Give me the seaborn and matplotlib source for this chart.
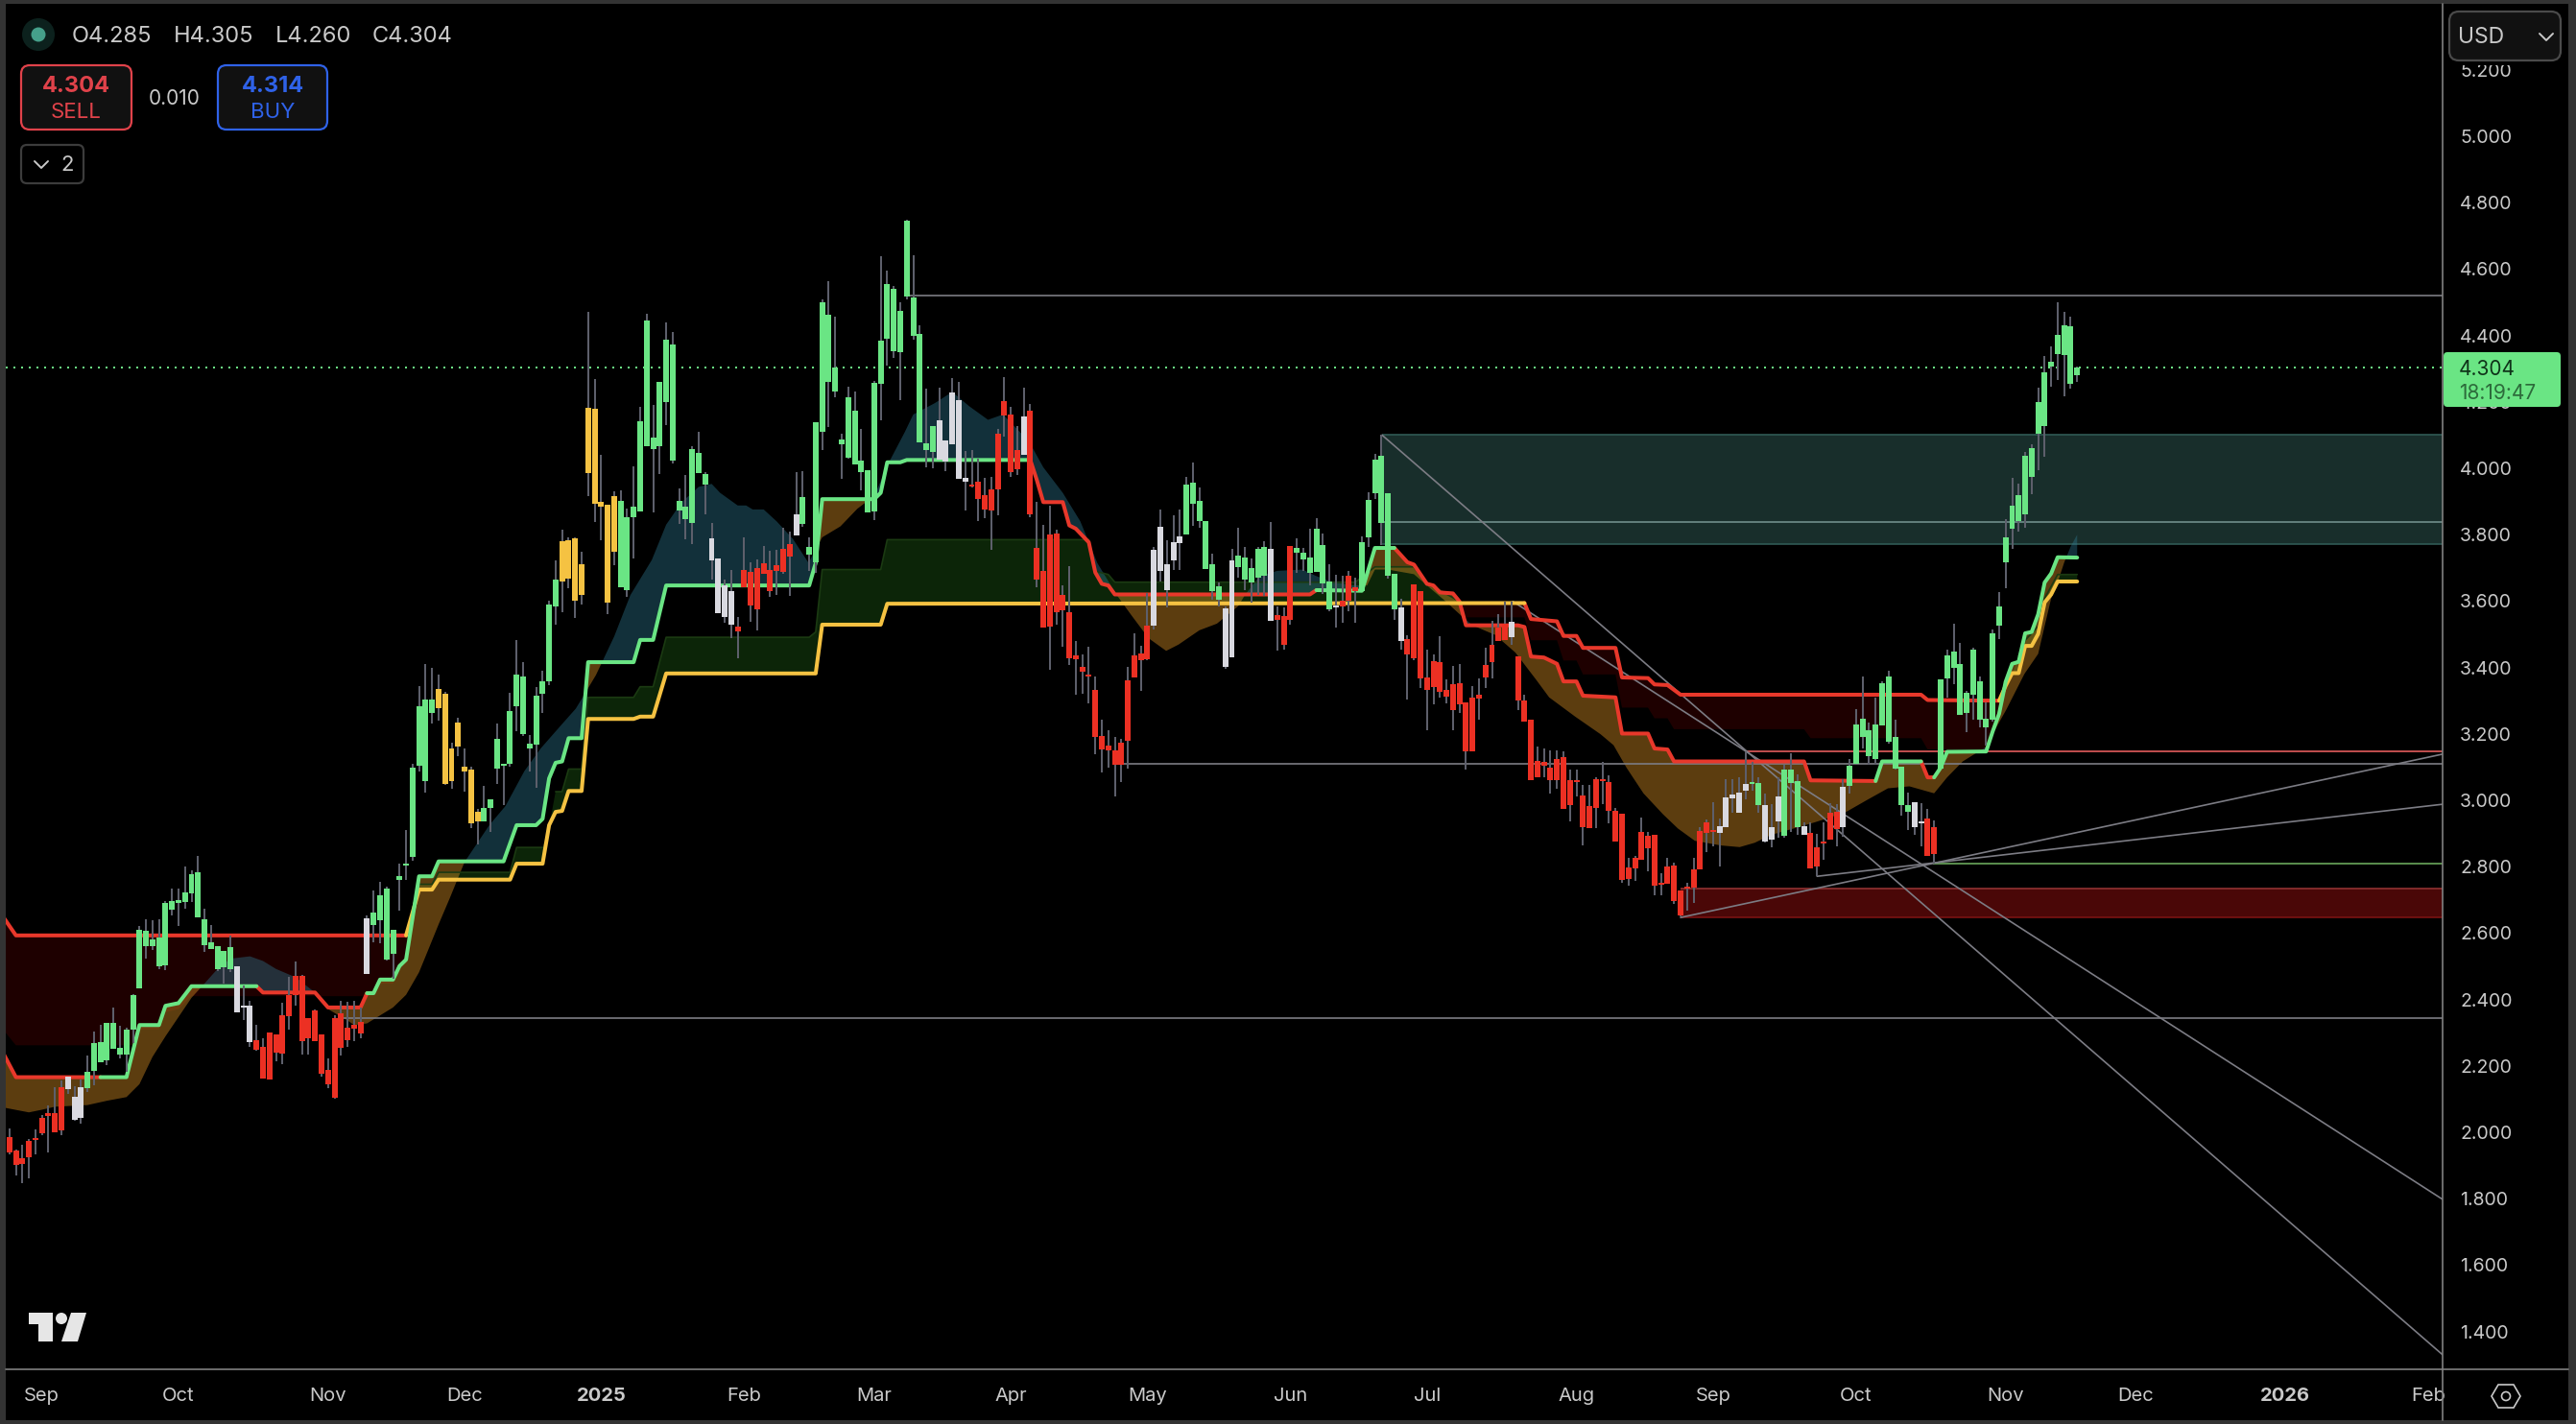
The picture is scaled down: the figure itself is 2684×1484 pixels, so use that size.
import numpy as np
import seaborn as sns
import matplotlib
matplotlib.use('Agg')
import matplotlib.pyplot as plt
from matplotlib.lines import Line2D
from matplotlib.patches import Circle, FancyBboxPatch, Polygon, Rectangle
from matplotlib.transforms import Affine2D

# candles, one per trading day
candle_kinds = ('R' * 9 + 'W' * 3 + 'G' * 23 + 'W' * 3 + 'R' * 17 + 'W' + 'G' * 10 + 'Y' * 7 + 'G' * 12 + 'Y' * 9
                + 'G' * 14 + 'W' * 4 + 'R' * 9 + 'W' + 'G' * 21 + 'W' * 5 + 'R' * 8 + 'W' + 'R' * 19 + 'W' * 5
                + 'G' * 6 + 'W' * 2 + 'G' * 5 + 'W' + 'R' * 3 + 'G' * 6 + 'W' + 'R' * 3 + 'G' * 6 + 'W' + 'R' * 16
                + 'W' + 'R' * 31 + 'W' * 5 + 'G' * 2 + 'W' * 3 + 'G' * 3 + 'W' + 'R' * 5 + 'W' + 'G' * 10 + 'W' * 2
                + 'R' * 2 + 'G' * 22)

body_top = [
    1.986, 1.945, 1.921, 1.974, 1.983, 2.044, 2.058, 2.058, 2.135, 2.168,
    2.107, 2.136, 2.182, 2.269, 2.272, 2.330, 2.330, 2.255, 2.310, 2.414,
    2.610, 2.607, 2.581, 2.587, 2.691, 2.697, 2.700, 2.723, 2.778, 2.783,
    2.642, 2.572, 2.561, 2.546, 2.558, 2.500, 2.382, 2.382, 2.278, 2.257,
    2.301, 2.295, 2.353, 2.414, 2.471, 2.471, 2.344, 2.367, 2.295, 2.188,
    2.344, 2.359, 2.315, 2.324, 2.333, 2.645, 2.662, 2.714, 2.734, 2.610,
    2.772, 2.810, 3.098, 3.283, 3.303, 3.303, 3.335, 3.321, 3.156, 3.234,
    3.101, 3.092, 2.965, 2.977, 3.003, 3.185, 3.110, 3.269, 3.379, 3.373,
    3.170, 3.315, 3.358, 3.589, 3.665, 3.780, 3.783, 3.789, 3.711, 4.182,
    4.179, 3.899, 3.890, 3.916, 3.901, 3.852, 3.884, 4.141, 4.445, 4.092,
    4.260, 4.387, 4.372, 3.901, 3.884, 4.057, 4.046, 3.982, 3.789, 3.728,
    3.647, 3.630, 3.522, 3.693, 3.687, 3.699, 3.714, 3.693, 3.708, 3.757,
    3.771, 3.861, 3.913, 3.763, 4.138, 4.500, 4.462, 4.303, 4.086, 4.214,
    4.173, 4.023, 3.994, 4.257, 4.384, 4.555, 4.540, 4.474, 4.746, 4.514,
    4.405, 4.075, 4.127, 4.144, 4.083, 4.228, 4.205, 3.971, 3.950, 3.959,
    3.919, 3.936, 4.104, 4.202, 4.161, 4.055, 4.156, 4.173, 3.760, 3.691,
    3.800, 3.803, 3.618, 3.566, 3.436, 3.402, 3.378, 3.332, 3.194, 3.165,
    3.150, 3.173, 3.361, 3.436, 3.442, 3.526, 3.754, 3.824, 3.711, 3.777,
    3.795, 3.951, 3.957, 3.902, 3.841, 3.711, 3.644, 3.578, 3.722, 3.737,
    3.731, 3.699, 3.757, 3.763, 3.757, 3.558, 3.555, 3.766, 3.760, 3.746,
    3.731, 3.818, 3.769, 3.659, 3.587, 3.601, 3.676, 3.642, 3.777, 3.904,
    4.026, 4.037, 3.925, 3.682, 3.581, 3.485, 3.650, 3.630, 3.370, 3.419,
    3.416, 3.332, 3.350, 3.352, 3.295, 3.309, 3.318, 3.407, 3.468, 3.520,
    3.532, 3.537, 3.433, 3.300, 3.243, 3.118, 3.115, 3.098, 3.124, 3.130,
    3.061, 3.061, 3.014, 2.983, 3.063, 3.063, 3.055, 2.968, 2.960, 2.798,
    2.826, 2.905, 2.893, 2.896, 2.751, 2.800, 2.803, 2.728, 2.740, 2.792,
    2.907, 2.933, 2.910, 2.922, 3.009, 3.017, 3.023, 3.049, 3.055, 3.052,
    2.985, 2.919, 3.011, 3.092, 3.092, 3.058, 2.922, 2.902, 2.858, 2.876,
    2.962, 2.965, 3.040, 3.104, 3.228, 3.246, 3.211, 3.228, 3.352, 3.373,
    3.191, 3.101, 2.985, 2.994, 2.936, 2.945, 2.919, 3.363, 3.436, 3.448,
    3.410, 3.324, 3.454, 3.358, 3.246, 3.503, 3.584, 3.792, 3.886, 3.920,
    4.039, 4.060, 4.198, 4.289, 4.320, 4.402, 4.430, 4.428, 4.303,
]
body_bottom = [
    1.940, 1.902, 1.906, 1.925, 1.978, 1.997, 2.050, 2.000, 2.006, 2.130,
    2.039, 2.044, 2.133, 2.185, 2.212, 2.217, 2.251, 2.234, 2.234, 2.310,
    2.434, 2.561, 2.561, 2.500, 2.503, 2.671, 2.691, 2.694, 2.720, 2.646,
    2.564, 2.552, 2.492, 2.497, 2.492, 2.362, 2.376, 2.272, 2.249, 2.162,
    2.159, 2.240, 2.237, 2.350, 2.414, 2.275, 2.283, 2.275, 2.177, 2.145,
    2.104, 2.255, 2.278, 2.312, 2.298, 2.477, 2.625, 2.639, 2.521, 2.538,
    2.760, 2.804, 2.830, 3.105, 3.059, 3.263, 3.277, 3.049, 3.058, 3.162,
    3.087, 2.931, 2.936, 2.936, 2.977, 3.095, 3.104, 3.110, 3.283, 3.199,
    3.156, 3.167, 3.321, 3.358, 3.584, 3.659, 3.668, 3.601, 3.618, 3.985,
    3.893, 3.884, 3.595, 3.748, 3.641, 3.633, 3.852, 3.870, 4.066, 4.057,
    4.066, 4.199, 4.023, 3.872, 3.846, 3.835, 3.985, 3.950, 3.722, 3.563,
    3.552, 3.529, 3.508, 3.641, 3.586, 3.575, 3.682, 3.630, 3.690, 3.687,
    3.734, 3.797, 3.832, 3.740, 3.716, 4.110, 4.260, 4.231, 4.072, 4.031,
    4.011, 3.988, 3.867, 3.871, 4.254, 4.390, 4.353, 4.350, 4.517, 4.399,
    4.078, 4.055, 4.049, 4.026, 4.020, 4.072, 3.968, 3.959, 3.945, 3.907,
    3.875, 3.873, 3.936, 4.159, 3.988, 3.997, 4.040, 3.861, 3.665, 3.520,
    3.523, 3.566, 3.572, 3.428, 3.425, 3.387, 3.373, 3.191, 3.153, 3.150,
    3.107, 3.107, 3.179, 3.370, 3.422, 3.425, 3.526, 3.691, 3.633, 3.722,
    3.774, 3.800, 3.893, 3.841, 3.696, 3.630, 3.604, 3.402, 3.431, 3.702,
    3.665, 3.656, 3.670, 3.676, 3.540, 3.543, 3.468, 3.543, 3.746, 3.725,
    3.685, 3.688, 3.653, 3.575, 3.581, 3.584, 3.601, 3.630, 3.630, 3.792,
    3.925, 3.835, 3.676, 3.575, 3.480, 3.439, 3.428, 3.367, 3.332, 3.341,
    3.326, 3.312, 3.272, 3.289, 3.147, 3.147, 3.306, 3.370, 3.416, 3.480,
    3.483, 3.491, 3.300, 3.237, 3.061, 3.069, 3.104, 3.061, 3.061, 2.974,
    2.985, 3.055, 2.919, 2.916, 2.977, 3.058, 2.968, 2.876, 2.760, 2.763,
    2.795, 2.821, 2.855, 2.743, 2.746, 2.748, 2.696, 2.653, 2.734, 2.737,
    2.792, 2.902, 2.904, 2.902, 2.919, 3.006, 2.962, 3.029, 3.049, 2.985,
    2.876, 2.881, 2.936, 2.893, 3.052, 2.919, 2.896, 2.795, 2.800, 2.870,
    2.881, 2.913, 2.919, 3.043, 3.110, 3.191, 3.133, 3.124, 3.225, 3.176,
    3.095, 2.985, 2.965, 2.919, 2.931, 2.832, 2.838, 3.096, 3.367, 3.399,
    3.257, 3.263, 3.318, 3.243, 3.220, 3.243, 3.526, 3.716, 3.818, 3.842,
    3.860, 3.974, 4.103, 4.128, 4.306, 4.344, 4.342, 4.255, 4.279,
]
wick_top = [
    2.012, 1.947, 1.962, 1.981, 2.010, 2.053, 2.082, 2.135, 2.156, 2.168,
    2.140, 2.159, 2.231, 2.304, 2.323, 2.330, 2.376, 2.320, 2.316, 2.416,
    2.622, 2.641, 2.639, 2.641, 2.696, 2.734, 2.734, 2.800, 2.790, 2.832,
    2.673, 2.625, 2.561, 2.546, 2.592, 2.501, 2.443, 2.395, 2.323, 2.283,
    2.301, 2.295, 2.390, 2.469, 2.514, 2.474, 2.344, 2.371, 2.295, 2.222,
    2.352, 2.395, 2.392, 2.395, 2.376, 2.653, 2.728, 2.755, 2.740, 2.610,
    2.810, 2.911, 3.110, 3.344, 3.410, 3.399, 3.378, 3.327, 3.173, 3.248,
    3.156, 3.101, 2.973, 3.043, 3.003, 3.231, 3.110, 3.324, 3.483, 3.416,
    3.196, 3.341, 3.390, 3.601, 3.722, 3.815, 3.792, 3.792, 3.748, 4.471,
    4.270, 4.040, 3.890, 3.930, 3.933, 3.878, 4.005, 4.185, 4.464, 4.190,
    4.260, 4.439, 4.410, 3.939, 3.979, 4.066, 4.110, 3.989, 3.835, 3.728,
    3.666, 3.693, 3.551, 3.792, 3.716, 3.724, 3.767, 3.751, 3.753, 3.822,
    3.808, 3.989, 3.991, 3.792, 4.138, 4.510, 4.564, 4.457, 4.105, 4.247,
    4.230, 4.119, 3.994, 4.262, 4.639, 4.595, 4.549, 4.500, 4.749, 4.642,
    4.431, 4.240, 4.127, 4.242, 4.083, 4.273, 4.259, 4.052, 4.056, 4.028,
    3.970, 3.975, 4.119, 4.276, 4.185, 4.127, 4.244, 4.193, 3.898, 3.830,
    3.888, 3.816, 3.647, 3.705, 3.479, 3.440, 3.462, 3.373, 3.243, 3.211,
    3.190, 3.185, 3.402, 3.503, 3.464, 3.623, 3.763, 3.876, 3.782, 3.859,
    3.876, 3.975, 4.016, 3.941, 3.841, 3.744, 3.657, 3.585, 3.758, 3.821,
    3.763, 3.729, 3.763, 3.779, 3.838, 3.585, 3.580, 3.766, 3.789, 3.760,
    3.818, 3.850, 3.803, 3.710, 3.679, 3.676, 3.691, 3.670, 3.794, 3.927,
    4.042, 4.100, 3.925, 3.682, 3.606, 3.498, 3.650, 3.630, 3.455, 3.438,
    3.493, 3.363, 3.406, 3.409, 3.295, 3.344, 3.368, 3.459, 3.541, 3.561,
    3.599, 3.599, 3.433, 3.318, 3.243, 3.161, 3.156, 3.151, 3.151, 3.146,
    3.093, 3.093, 3.045, 3.045, 3.069, 3.117, 3.076, 2.978, 2.960, 2.828,
    2.831, 2.947, 2.906, 2.896, 2.780, 2.826, 2.811, 2.728, 2.751, 2.828,
    2.920, 2.942, 2.994, 2.944, 3.064, 3.064, 3.069, 3.146, 3.117, 3.069,
    3.021, 2.987, 3.069, 3.108, 3.142, 3.079, 2.934, 2.934, 2.900, 2.934,
    2.990, 2.987, 3.064, 3.124, 3.274, 3.372, 3.233, 3.308, 3.358, 3.389,
    3.243, 3.101, 3.023, 2.994, 2.990, 2.973, 2.939, 3.363, 3.453, 3.532,
    3.474, 3.330, 3.459, 3.373, 3.296, 3.514, 3.628, 3.846, 3.970, 3.953,
    4.049, 4.073, 4.243, 4.339, 4.366, 4.499, 4.471, 4.457, 4.305,
]
wick_bottom = [
    1.933, 1.870, 1.848, 1.860, 1.933, 1.991, 1.938, 2.000, 1.991, 2.116,
    2.036, 2.027, 2.121, 2.143, 2.212, 2.201, 2.251, 2.222, 2.183, 2.270,
    2.434, 2.524, 2.549, 2.490, 2.487, 2.653, 2.620, 2.672, 2.694, 2.646,
    2.542, 2.552, 2.485, 2.448, 2.484, 2.362, 2.339, 2.258, 2.246, 2.162,
    2.159, 2.214, 2.206, 2.310, 2.381, 2.233, 2.233, 2.275, 2.168, 2.133,
    2.101, 2.231, 2.257, 2.275, 2.282, 2.477, 2.572, 2.569, 2.516, 2.463,
    2.668, 2.761, 2.817, 3.087, 3.023, 3.231, 3.240, 3.046, 3.035, 3.133,
    3.026, 2.915, 2.867, 2.936, 2.904, 3.049, 2.985, 3.101, 3.208, 3.194,
    3.087, 3.037, 3.263, 3.347, 3.529, 3.566, 3.639, 3.549, 3.589, 3.916,
    3.838, 3.782, 3.560, 3.707, 3.641, 3.613, 3.728, 3.870, 4.066, 3.867,
    3.982, 4.129, 4.015, 3.832, 3.786, 3.772, 3.985, 3.861, 3.664, 3.563,
    3.534, 3.488, 3.427, 3.641, 3.537, 3.511, 3.682, 3.613, 3.618, 3.681,
    3.616, 3.797, 3.825, 3.690, 3.684, 4.056, 4.124, 4.215, 3.968, 4.030,
    4.011, 3.934, 3.867, 3.845, 4.145, 4.309, 4.332, 4.206, 4.509, 4.387,
    4.078, 4.002, 4.001, 4.026, 3.992, 4.072, 3.968, 3.873, 3.941, 3.840,
    3.849, 3.753, 3.859, 4.095, 3.975, 3.979, 4.040, 3.854, 3.642, 3.520,
    3.394, 3.530, 3.462, 3.408, 3.318, 3.320, 3.291, 3.139, 3.084, 3.098,
    3.011, 3.055, 3.096, 3.370, 3.329, 3.421, 3.514, 3.659, 3.582, 3.695,
    3.695, 3.800, 3.827, 3.821, 3.696, 3.604, 3.585, 3.397, 3.431, 3.671,
    3.633, 3.594, 3.618, 3.616, 3.540, 3.452, 3.455, 3.530, 3.686, 3.691,
    3.647, 3.688, 3.622, 3.570, 3.520, 3.536, 3.570, 3.535, 3.630, 3.763,
    3.907, 3.768, 3.668, 3.543, 3.455, 3.304, 3.421, 3.337, 3.212, 3.289,
    3.310, 3.291, 3.212, 3.262, 3.093, 3.147, 3.243, 3.339, 3.368, 3.480,
    3.483, 3.469, 3.272, 3.237, 3.061, 3.069, 3.069, 3.021, 3.036, 2.974,
    2.936, 3.013, 2.864, 2.916, 2.915, 2.987, 2.930, 2.876, 2.751, 2.742,
    2.756, 2.821, 2.785, 2.715, 2.715, 2.748, 2.689, 2.650, 2.669, 2.692,
    2.792, 2.843, 2.862, 2.801, 2.919, 2.963, 2.962, 3.002, 3.030, 2.963,
    2.872, 2.859, 2.886, 2.886, 2.906, 2.896, 2.896, 2.795, 2.771, 2.821,
    2.881, 2.862, 2.891, 3.021, 3.110, 3.156, 3.108, 3.108, 3.225, 3.170,
    3.093, 2.954, 2.910, 2.896, 2.862, 2.832, 2.809, 3.096, 3.309, 3.349,
    3.257, 3.204, 3.243, 3.219, 3.166, 3.237, 3.485, 3.638, 3.758, 3.810,
    3.822, 3.922, 3.994, 4.034, 4.246, 4.265, 4.217, 4.241, 4.259,
]

# fast line (turns green or red)
fast_bars = [-1, 1, 14, 18, 20, 23, 24, 26, 28, 38, 39, 47, 49, 54, 55, 56, 57, 59, 60, 61, 63, 65, 66, 76, 78, 81,
             82, 83, 84, 85, 86, 88, 89, 96, 97, 99, 101, 123, 124, 125, 133, 134, 135, 137, 138, 157, 158, 159, 162,
             163, 164, 166, 167, 168, 169, 170, 200, 201, 208, 209, 210, 213, 215, 216, 218, 219, 220, 222, 223, 224,
             232, 233, 234, 236, 238, 239, 241, 242, 247, 248, 252, 253, 255, 256, 276, 277, 287, 288, 294, 295, 296,
             297, 298, 304, 305, 306, 307, 308, 309, 310, 311, 312, 313, 314, 315, 318]
fast_vals = [2.240, 2.166, 2.166, 2.166, 2.323, 2.323, 2.381, 2.389, 2.440, 2.440, 2.421, 2.421, 2.376, 2.376, 2.419,
             2.419, 2.460, 2.460, 2.501, 2.520, 2.771, 2.771, 2.816, 2.816, 2.925, 2.925, 2.944, 3.066, 3.113, 3.117,
             3.187, 3.187, 3.416, 3.416, 3.483, 3.483, 3.647, 3.647, 3.715, 3.907, 3.907, 3.926, 4.018, 4.018, 4.025,
             4.025, 3.965, 3.898, 3.898, 3.828, 3.818, 3.777, 3.686, 3.652, 3.647, 3.620, 3.620, 3.633, 3.631, 3.695,
             3.760, 3.760, 3.717, 3.710, 3.652, 3.647, 3.626, 3.623, 3.599, 3.527, 3.527, 3.522, 3.433, 3.430, 3.411,
             3.358, 3.358, 3.315, 3.310, 3.201, 3.201, 3.156, 3.153, 3.117, 3.117, 3.060, 3.058, 3.117, 3.117, 3.069,
             3.069, 3.098, 3.146, 3.147, 3.207, 3.261, 3.357, 3.411, 3.417, 3.503, 3.507, 3.560, 3.656, 3.683, 3.732,
             3.731]
fast_green_runs = [(14, 38), (55, 157), (201, 213), (287, 294), (296, 318)]
fast_red_runs = [(-1, 14), (38, 55), (157, 201), (213, 287), (294, 296)]

# slow line (yellow above, red below)
slow_bars = [-1, 1, 61, 63, 65, 66, 77, 78, 82, 83, 84, 85, 86, 88, 89, 96, 97, 99, 101, 124, 125, 134, 135, 233, 234,
             238, 239, 241, 242, 247, 248, 252, 253, 255, 257, 294, 295, 306, 307, 308, 309, 310, 311, 312, 313, 314,
             315, 318]
slow_vals = [2.650, 2.593, 2.593, 2.731, 2.731, 2.761, 2.761, 2.809, 2.809, 2.925, 2.965, 2.968, 3.028, 3.028, 3.245,
             3.245, 3.252, 3.252, 3.382, 3.382, 3.529, 3.529, 3.592, 3.594, 3.546, 3.539, 3.495, 3.495, 3.459, 3.459,
             3.370, 3.368, 3.349, 3.347, 3.318, 3.318, 3.302, 3.300, 3.345, 3.383, 3.383, 3.465, 3.465, 3.501, 3.596,
             3.620, 3.659, 3.659]
slow_yellow_runs = [(61, 233), (306, 318)]
slow_red_runs = [(-1, 61), (233, 306)]

# second edge of the dark red / dark green band
band_bars = [-1, 1, 19, 20, 23, 24, 26, 28, 55, 56, 57, 59, 60, 61, 63, 65, 66, 77, 78, 82, 83, 84, 85, 86, 88, 89, 96,
             97, 99, 101, 123, 124, 125, 134, 135, 166, 167, 169, 170, 207, 210, 216, 218, 219, 223, 224, 233, 234, 238,
             239, 241, 242, 247, 248, 252, 253, 255, 256, 276, 277, 294, 295, 304, 306, 307, 309, 310, 312, 313, 315,
             318]
band_vals = [2.310, 2.262, 2.262, 2.309, 2.309, 2.362, 2.371, 2.410, 2.410, 2.414, 2.448, 2.448, 2.492, 2.511, 2.747,
             2.747, 2.783, 2.783, 2.858, 2.858, 2.920, 3.026, 3.026, 3.094, 3.094, 3.310, 3.310, 3.342, 3.342, 3.491,
             3.491, 3.507, 3.695, 3.695, 3.785, 3.785, 3.690, 3.680, 3.657, 3.657, 3.703, 3.703, 3.647, 3.644, 3.599,
             3.551, 3.551, 3.482, 3.482, 3.421, 3.421, 3.379, 3.379, 3.279, 3.279, 3.247, 3.247, 3.214, 3.214, 3.187,
             3.187, 3.153, 3.153, 3.255, 3.321, 3.435, 3.482, 3.524, 3.608, 3.680, 3.680]

# slow moving average, brown under the fast line and teal above it
mean_bars = [-1, 3, 5, 7, 12, 15, 18, 20, 22, 24, 26, 28, 30, 32, 34, 37, 39, 41, 44, 47, 49, 52, 53, 55, 57, 59, 61,
             63, 64.4, 66, 67.7, 70, 73.8, 76.3, 79.2, 81.7, 84.7, 87.1, 88, 90.2, 93, 95.5, 98.8, 101, 103.4, 106, 108,
             109.3, 112, 113.3, 114.3, 116, 118, 120.5, 122.9, 125, 127.8, 130.4, 133, 135.4, 137.7, 139, 142.3, 145,
             147.6, 150.5, 152.8, 156.8, 159, 162, 164.7, 167.3, 170.3, 172.6, 175.2, 177.9, 179.8, 183, 185.7, 189,
             190, 192.3, 195, 198.9, 200.9, 203.5, 206.8, 208.8, 210, 212, 216, 218, 220.6, 223, 225, 228.5, 231.6,
             234.8, 236.8, 240.8, 244.7, 246.7, 248.7, 251.3, 254.3, 256.6, 259.2, 263.2, 266.1, 268.4, 271, 274.4,
             277.7, 282.3, 285.6, 288.9, 292.2, 296, 298, 300.4, 304, 304.7, 307.1, 309.9, 312, 313, 314, 315, 316,
             317, 318]
mean_vals = [2.075, 2.060, 2.068, 2.077, 2.082, 2.095, 2.106, 2.145, 2.227, 2.289, 2.347, 2.405, 2.448, 2.492, 2.523,
             2.530, 2.516, 2.492, 2.467, 2.421, 2.371, 2.337, 2.323, 2.328, 2.352, 2.376, 2.414, 2.482, 2.549, 2.626,
             2.704, 2.814, 2.925, 2.983, 3.088, 3.156, 3.223, 3.276, 3.305, 3.377, 3.493, 3.618, 3.724, 3.830, 3.898,
             3.944, 3.953, 3.926, 3.888, 3.888, 3.876, 3.876, 3.840, 3.787, 3.715, 3.792, 3.825, 3.878, 3.917, 4.023,
             4.109, 4.162, 4.196, 4.230, 4.187, 4.146, 4.162, 4.081, 4.003, 3.926, 3.840, 3.715, 3.618, 3.556, 3.488,
             3.450, 3.469, 3.512, 3.532, 3.585, 3.618, 3.676, 3.691, 3.695, 3.676, 3.657, 3.647, 3.647, 3.695, 3.695,
             3.681, 3.647, 3.604, 3.561, 3.527, 3.498, 3.445, 3.363, 3.310, 3.252, 3.199, 3.166, 3.098, 3.021, 2.958,
             2.915, 2.878, 2.864, 2.859, 2.872, 2.896, 2.915, 2.934, 2.963, 3.000, 3.036, 3.042, 3.021, 3.069, 3.117,
             3.161, 3.189, 3.273, 3.381, 3.441, 3.525, 3.608, 3.656, 3.716, 3.764, 3.800]

# drawn levels: start bar, price
grey_levels = [(138.3, 4.520), (170.5, 3.110), (51.3, 2.345)]
salmon_level = (267.2, 3.148)
green_level = (295.8, 2.809)
teal_zone = (211.1, 3.771, 4.100, 3.838)
red_zone = (257.0, 2.647, 2.735)
# trend rays: start bar, start price, end price at the right edge
trend_rays = [(211.1, 4.100, 1.330), (231.2, 3.599, 1.798), (257.0, 2.647, 3.139), (278.0, 2.771, 2.988)]

last_price = 4.304
price_ticks = [1.4, 1.6, 1.8, 2.0, 2.2, 2.4, 2.6, 2.8, 3.0, 3.2, 3.4, 3.6, 3.8, 4.0, 4.2, 4.4, 4.6, 4.8, 5.0, 5.2]
month_bars = [5, 26, 49, 70, 91, 113, 133, 154, 175, 197, 218, 241, 262, 284, 307, 327, 350, 372]
month_labels = ['Sep', 'Oct', 'Nov', 'Dec', '2025', 'Feb', 'Mar', 'Apr', 'May', 'Jun', 'Jul', 'Aug', 'Sep', 'Oct',
                'Nov', 'Dec', '2026', 'Feb']
legend_items = ['O4.285', 'H4.305', 'L4.260', 'C4.304']

GREEN = '#6ae584'
RED = '#ec3023'
WHITE = '#d9d9e0'
YELLOW = '#f5c242'
WICK = '#5d5f6b'
LINE_GREY = '#7c7c84'
TEXT = '#c9c9c9'
kind_colors = {'G': GREEN, 'R': RED, 'W': WHITE, 'Y': YELLOW}

W, H = 2684, 1484
sns.set_theme(style='dark', rc={'axes.facecolor': 'black', 'figure.facecolor': '#333333'})
plt.rcParams['font.family'] = ['Inter', 'DejaVu Sans']

fig = plt.figure(figsize=(W / 100, H / 100), dpi=100)
ui = Affine2D().scale(1, -1).translate(0, H)  # pixel coordinates, origin top left
fig.add_artist(Rectangle((6, 4), 2670, 1476, transform=ui, fc='black', ec='none', zorder=-1))

ax = fig.add_axes([6 / W, 1 - 1427 / H, (2545 - 6) / W, (1427 - 4) / H], zorder=1)
ax.set_xlim((6 - 9.8) / 6.775, (2545 - 9.8) / 6.775)
ax.set_ylim(5 - (1427 - 142) / 346, 5 - (4 - 142) / 346)
for s in ax.spines.values():
    s.set_visible(False)
right_edge = ax.get_xlim()[1]

# clouds
grid = np.arange(-1, 318.01, 0.1)
fast_grid = np.interp(grid, fast_bars, fast_vals)
slow_grid = np.interp(grid, slow_bars, slow_vals)
band_grid = np.interp(grid, band_bars, band_vals)
mean_grid = np.interp(grid, mean_bars, mean_vals)
ax.fill_between(grid, band_grid, slow_grid, where=band_grid < slow_grid, color='#a00000', alpha=0.19, lw=0, zorder=1)
ax.fill_between(grid, band_grid, slow_grid, where=band_grid >= slow_grid, color='#2f8a1e', alpha=0.27, lw=0, zorder=1)
ax.fill_between(grid, fast_grid, mean_grid, where=mean_grid < fast_grid, color='#e89a28', alpha=0.40, lw=0, zorder=1.2)
ax.fill_between(grid, fast_grid, mean_grid, where=mean_grid >= fast_grid, color='#2f7a93', alpha=0.40, lw=0, zorder=1.2)

# zones and drawn lines
left, low, high, mid = teal_zone
ax.fill_between([left, right_edge], low, high, color='#182e2b', lw=0, zorder=0.5)
ax.hlines([low, high], left, right_edge, color='#2f5a55', lw=1.2, zorder=0.6)
ax.hlines(mid, left, right_edge, color='#6f8d8b', lw=1.2, zorder=2)
left, low, high = red_zone
ax.fill_between([left, right_edge], low, high, color='#4a0707', lw=0, zorder=0.5)
ax.hlines(low, left, right_edge, color='#7a1212', lw=1.2, zorder=0.6)
ax.hlines(high, left, right_edge, color='#8f3232', lw=1.2, zorder=0.6)
for bar, price in grey_levels:
    ax.hlines(price, bar, right_edge, color=LINE_GREY, lw=1.2, zorder=2)
ax.hlines(salmon_level[1], salmon_level[0], right_edge, color='#e25c5c', lw=1.2, zorder=2)
ax.hlines(green_level[1], green_level[0], right_edge, color='#6aa85c', lw=1.2, zorder=2)
for bar, start, end in trend_rays:
    sns.lineplot(x=[bar, right_edge], y=[start, end], color=LINE_GREY, linewidth=1.2, ax=ax, estimator=None, zorder=2.5)
ax.axhline(last_price, color=GREEN, lw=1.44, ls=(0, (1, 3)), zorder=3)

# indicator lines, drawn per colour run
every_bar = np.arange(-1, 319)
fast_line = np.interp(every_bar, fast_bars, fast_vals)
slow_line = np.interp(every_bar, slow_bars, slow_vals)
band_line = np.interp(every_bar, band_bars, band_vals)
ax.plot(every_bar, np.where(band_line >= slow_line, band_line, np.nan), color='#1b3a12', lw=1.2, zorder=1.5)
for runs, line, color in [(fast_red_runs, fast_line, '#e8382b'), (slow_red_runs, slow_line, '#e8382b'),
                          (slow_yellow_runs, slow_line, YELLOW), (fast_green_runs, fast_line, GREEN)]:
    for a, b in runs:
        mask = (every_bar >= a) & (every_bar <= b)
        sns.lineplot(x=every_bar[mask], y=line[mask], color=color, linewidth=2.9, ax=ax, estimator=None, zorder=3.2)

# candles
bars = np.arange(len(body_top))
colors = [kind_colors[k] for k in candle_kinds]
ax.vlines(bars, wick_bottom, wick_top, color=WICK, lw=1.44, zorder=4)
ax.bar(bars, np.array(body_top) - np.array(body_bottom), bottom=body_bottom, width=0.885, color=colors, lw=0, zorder=5)

# axes
ax.yaxis.tick_right()
ax.set_yticks(price_ticks)
ax.set_yticklabels(['%.3f' % p for p in price_ticks], fontsize=14, color=TEXT)
ax.set_xticks(month_bars)
ax.set_xticklabels(month_labels, fontsize=14.5, color=TEXT)
ax.tick_params(axis='y', length=0, pad=13)
ax.tick_params(axis='x', length=0, pad=14)
for label in ax.get_xticklabels():
    if label.get_text() in ('2025', '2026'):
        label.set_fontweight('bold')
fig.add_artist(Line2D([2545, 2545], [4, 1480], transform=ui, color='#808080', lw=1.2, zorder=6))
fig.add_artist(Line2D([6, 2676], [1427, 1427], transform=ui, color='#808080', lw=1.2, zorder=6))

# chrome around the chart
fig.add_artist(Rectangle((2547, 1429), 129, 51, transform=ui, fc='black', ec='none', zorder=5))
fig.add_artist(Rectangle((2547, 4), 129, 64, transform=ui, fc='black', ec='none', zorder=5))
fig.add_artist(Circle((40, 36), 17, transform=ui, fc='#0c211d', ec='none', zorder=7))
fig.add_artist(Circle((40, 36), 7.5, transform=ui, fc='#45a08a', ec='none', zorder=7))
for x, item in zip([75, 181, 287, 388], legend_items):
    fig.text(x, 38, item, transform=ui, fontsize=17, color=TEXT, va='center', ha='left', zorder=7)


def box(x0, y0, x1, y1, edge, face='#111111', rad=9, lw=1.6):
    fig.add_artist(FancyBboxPatch((x0 + rad, y0 + rad), x1 - x0 - 2 * rad, y1 - y0 - 2 * rad,
                                  boxstyle='round,pad=%d,rounding_size=%d' % (rad, rad), transform=ui, fc=face,
                                  ec=edge, lw=lw, zorder=7))


def chevron(x, y, color=TEXT):
    fig.add_artist(Line2D([x - 7, x, x + 7], [y - 3, y + 4, y - 3], transform=ui, color=color, lw=1.4, zorder=8))


box(22, 68, 137, 135, '#e0424a')
fig.text(79, 90, '4.304', transform=ui, fontsize=17, fontweight='bold', color='#e0424a', ha='center', va='center', zorder=8)
fig.text(79, 117, 'SELL', transform=ui, fontsize=16, color='#e0424a', ha='center', va='center', zorder=8)
fig.text(182, 103, '0.010', transform=ui, fontsize=15, color=TEXT, ha='center', va='center', zorder=8)
box(227, 68, 341, 135, '#2f62e8')
fig.text(284, 90, '4.314', transform=ui, fontsize=17, fontweight='bold', color='#2f62e8', ha='center', va='center', zorder=8)
fig.text(284, 117, 'BUY', transform=ui, fontsize=16, color='#2f62e8', ha='center', va='center', zorder=8)
box(22, 151, 87, 191, '#3c3c3c', face='black', rad=6)
chevron(43, 171)
fig.text(70, 172, '2', transform=ui, fontsize=16, color=TEXT, ha='center', va='center', zorder=8)

box(2552, 12, 2668, 63, '#4a4a4a', rad=10)
fig.text(2561, 39, 'USD', transform=ui, fontsize=16.5, color=TEXT, ha='left', va='center', zorder=8)
chevron(2653, 38)

# last price tag
box(2546, 367, 2668, 424, GREEN, face=GREEN, rad=4, lw=0)
fig.text(2562, 385, '4.304', transform=ui, fontsize=15, color='#0f3319', ha='left', va='center', zorder=8)
fig.text(2562, 410, '18:19:47', transform=ui, fontsize=15, color='#2d6b3b', ha='left', va='center', zorder=8)

# logo
logo = '#e6e6e6'
fig.add_artist(Polygon([(30, 1368), (55, 1368), (55, 1398), (40, 1398), (40, 1380), (30, 1380)], transform=ui, fc=logo,
                       ec='none', zorder=7))
fig.add_artist(Circle((64, 1374), 6, transform=ui, fc=logo, ec='none', zorder=7))
fig.add_artist(Polygon([(74, 1368), (90, 1368), (81, 1398), (64, 1398)], transform=ui, fc=logo, ec='none', zorder=7))

# settings icon
hx, hy = 2611, 1455
fig.add_artist(Polygon([(hx - 15, hy), (hx - 8, hy - 12), (hx + 8, hy - 12), (hx + 15, hy), (hx + 8, hy + 12),
                        (hx - 8, hy + 12)], transform=ui, fc='none', ec=TEXT, lw=1.2, zorder=7))
fig.add_artist(Circle((hx, hy), 4.5, transform=ui, fc='none', ec=TEXT, lw=1.2, zorder=7))

fig.savefig('out.png', dpi=100, facecolor=fig.get_facecolor())
